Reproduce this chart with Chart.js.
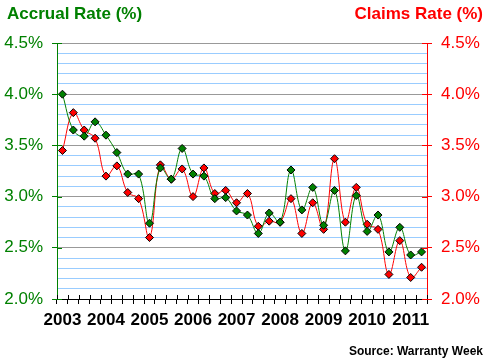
<!DOCTYPE html>
<html>
<head>
<meta charset="utf-8">
<script src="https://cdn.jsdelivr.net/npm/chart.js@4/dist/chart.umd.min.js"></script>
<style>
  body { margin: 0; background: #fff; }
</style>
</head>
<body>
<canvas id="chart" width="486" height="363"></canvas>
<script>
// quarterly values, 2003 Q1 .. 2011 Q2
const years = ['2003', '2004', '2005', '2006', '2007', '2008', '2009', '2010', '2011'];
const accrualRate = [4.00, 3.65, 3.59, 3.73, 3.60, 3.43, 3.22, 3.22, 2.74, 3.28, 3.17, 3.47,
  3.22, 3.20, 2.98, 2.99, 2.86, 2.82, 2.64, 2.84, 2.75, 3.26, 2.87, 3.09,
  2.72, 3.06, 2.47, 3.01, 2.66, 2.82, 2.46, 2.70, 2.43, 2.46];
const claimsRate = [3.45, 3.82, 3.65, 3.57, 3.20, 3.30, 3.04, 2.98, 2.60, 3.31, 3.17, 3.27,
  3.00, 3.28, 3.03, 3.06, 2.94, 3.03, 2.71, 2.76, 2.75, 2.98, 2.64, 2.94,
  2.68, 3.37, 2.75, 3.09, 2.73, 2.68, 2.24, 2.57, 2.21, 2.31];

const quarters = [];
for (const y of years) {
  for (let q = 1; q <= 4; q++) {
    if (quarters.length < accrualRate.length) quarters.push(y + ' Q' + q);
  }
}

const GREEN = '#008000';
const RED = '#ff0000';
const FONT = "'Liberation Sans', Arial, sans-serif";

function isMajor(v) {
  return Math.round(v * 10) % 5 === 0;
}

// titles, source line and the inner half of the tick marks
const extras = {
  id: 'extras',
  afterDraw(chart) {
    const ctx = chart.ctx;
    const area = chart.chartArea;
    const x = chart.scales.x;
    const yl = chart.scales.y;
    ctx.save();
    ctx.lineWidth = 1;

    ctx.strokeStyle = '#000';
    ctx.beginPath();
    for (let i = 0; i <= quarters.length; i++) {
      const px = Math.round(x.getPixelForValue(i - 0.5)) + 0.5;
      ctx.moveTo(px, area.bottom - 4);
      ctx.lineTo(px, area.bottom);
    }
    ctx.stroke();

    for (const t of yl.ticks) {
      if (!isMajor(t.value)) continue;
      const py = Math.round(yl.getPixelForValue(t.value)) + 0.5;
      ctx.strokeStyle = GREEN;
      ctx.beginPath();
      ctx.moveTo(area.left, py);
      ctx.lineTo(area.left + 5, py);
      ctx.stroke();
      ctx.strokeStyle = RED;
      ctx.beginPath();
      ctx.moveTo(area.right - 5, py);
      ctx.lineTo(area.right, py);
      ctx.stroke();
    }

    ctx.textBaseline = 'middle';
    ctx.font = 'bold 17px ' + FONT;
    ctx.fillStyle = GREEN;
    ctx.textAlign = 'left';
    ctx.fillText('Accrual Rate (%)', 7, 14);
    ctx.fillStyle = RED;
    ctx.textAlign = 'right';
    ctx.fillText('Claims Rate (%)', 483, 14);

    ctx.font = 'bold 12px ' + FONT;
    ctx.fillStyle = '#000';
    ctx.fillText('Source: Warranty Week', 483, 352);
    ctx.restore();
  }
};

new Chart(document.getElementById('chart'), {
  type: 'line',
  data: {
    labels: quarters,
    datasets: [{
      label: 'Accrual Rate (%)',
      data: accrualRate,
      borderColor: GREEN,
      backgroundColor: GREEN,
      borderWidth: 1,
      tension: 0.4,
      pointStyle: 'rectRot',
      pointRadius: 4,
      pointBorderColor: '#000',
      pointBorderWidth: 1,
      yAxisID: 'y'
    }, {
      label: 'Claims Rate (%)',
      data: claimsRate,
      borderColor: RED,
      backgroundColor: RED,
      borderWidth: 1,
      tension: 0.4,
      pointStyle: 'rectRot',
      pointRadius: 4,
      pointBorderColor: '#000',
      pointBorderWidth: 1,
      yAxisID: 'y2'
    }]
  },
  options: {
    responsive: false,
    animation: false,
    layout: { padding: { top: 43, left: 0, right: 0, bottom: 0 } },
    plugins: {
      legend: { display: false },
      tooltip: { enabled: false }
    },
    scales: {
      x: {
        offset: true,
        grid: {
          offset: true,
          drawOnChartArea: false,
          tickLength: 5,
          tickColor: '#000'
        },
        border: { color: '#000', width: 1 },
        ticks: {
          autoSkip: false,
          maxRotation: 0,
          padding: 6,
          color: '#000',
          font: { family: FONT, size: 17, weight: 'bold' },
          callback: (v, i) => (i % 4 === 0 ? quarters[i].slice(0, 4) : '')
        },
        afterFit: s => { s.height = 64; }
      },
      y: {
        position: 'left',
        min: 2.0,
        max: 4.5,
        grid: {
          color: c => (c.tick.value <= 2.0 ? '#000' : isMajor(c.tick.value) ? '#999999' : '#99ccff'),
          tickLength: 5,
          tickColor: c => (isMajor(c.tick.value) ? GREEN : 'rgba(0,0,0,0)')
        },
        border: { color: GREEN, width: 1 },
        ticks: {
          stepSize: 0.1,
          autoSkip: false,
          padding: 9,
          color: GREEN,
          font: { family: FONT, size: 17 },
          callback: v => (isMajor(v) ? v.toFixed(1) + '%' : '')
        },
        afterFit: s => { s.width = 57; }
      },
      y2: {
        position: 'right',
        min: 2.0,
        max: 4.5,
        grid: {
          drawOnChartArea: false,
          tickLength: 5,
          tickColor: c => (isMajor(c.tick.value) ? RED : 'rgba(0,0,0,0)')
        },
        border: { color: RED, width: 1 },
        ticks: {
          stepSize: 0.1,
          autoSkip: false,
          padding: 9,
          color: RED,
          font: { family: FONT, size: 17 },
          callback: v => (isMajor(v) ? v.toFixed(1) + '%' : '')
        },
        afterFit: s => { s.width = 59; }
      }
    }
  },
  plugins: [extras]
});
</script>
</body>
</html>
